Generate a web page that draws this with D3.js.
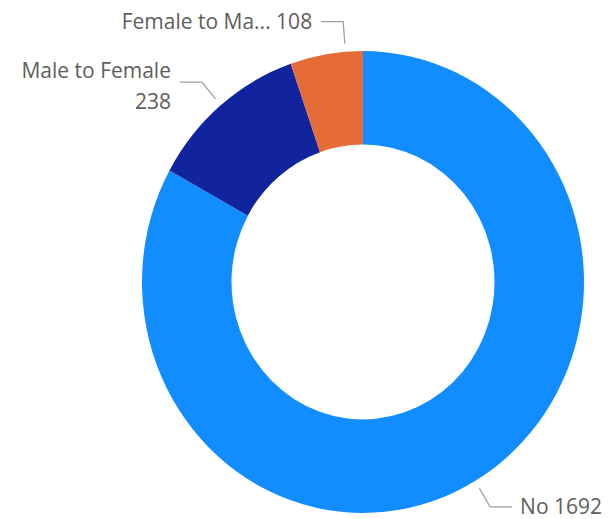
<!DOCTYPE html>
<html>
<head>
<meta charset="utf-8">
<script src="https://cdn.jsdelivr.net/npm/d3@7"></script>
<style>
  body { margin: 0; background: #fff; }
  svg { display: block; }
  .lbl { font-family: "Segoe UI", "Open Sans", sans-serif; font-size: 21px; fill: #605E5C; }
</style>
</head>
<body>
<div id="chart"></div>
<script>
// Chart data
const categories = ["No", "Male to Female", "Female to Male"];
const values = [1692, 238, 108];
const labelLines = [["No 1692"], ["Male to Female", "238"], ["Female to Ma... 108"]];
const colors = ["#118DFF", "#12239E", "#E66C37"];

const width = 615, height = 519;
const cx = 363, cy = 282;
const outerR = 221, innerR = 131.5;
const sy = 1.045; // the donut is slightly taller than wide

const svg = d3.select('#chart')
    .append('svg')
    .attr('width', width)
    .attr('height', height);

const pie = d3.pie().sort(null).value(d => d.value);
const arcs = pie(categories.map((c, i) => ({ name: c, value: values[i], lines: labelLines[i], color: colors[i] })));

const arc = d3.arc().innerRadius(innerR).outerRadius(outerR);

svg.append('g')
    .attr('transform', `translate(${cx},${cy}) scale(1,${sy})`)
    .selectAll('path.slice')
    .data(arcs)
    .enter()
    .append('path')
    .attr('class', 'slice')
    .attr('d', arc)
    .attr('fill', d => d.data.color);

// leader lines + labels
// small angular nudge so the last label clears its neighbour
const nudge = [0, 0, 0.087];
const pt = (a, r) => [cx + Math.sin(a) * r, cy - Math.cos(a) * r * sy];

const labels = svg.append('g');

arcs.forEach((d, i) => {
    const a = (d.startAngle + d.endAngle) / 2 + nudge[i];
    const p1 = pt(a, outerR + 8);
    const p2 = pt(a, outerR + 29);
    const right = Math.sin(a) > 0;
    const p3 = [p2[0] + (right ? 22 : -22), p2[1]];

    labels.append('polyline')
        .attr('points', [p1, p2, p3].map(p => p.join(',')).join(' '))
        .attr('fill', 'none')
        .attr('stroke', '#A19F9D')
        .attr('stroke-width', 1.3);

    const tx = p3[0] + (right ? 8 : -9);
    const n = d.data.lines.length;
    const lineH = 31;
    const y0 = n === 1 ? p3[1] : p3[1] - 12;

    const t = labels.append('text')
        .attr('class', 'lbl')
        .attr('text-anchor', right ? 'start' : 'end');
    d.data.lines.forEach((s, k) => {
        t.append('tspan')
            .attr('x', tx)
            .attr('y', y0 + k * lineH)
            .attr('dy', '0.35em')
            .text(s);
    });
});
</script>
</body>
</html>
